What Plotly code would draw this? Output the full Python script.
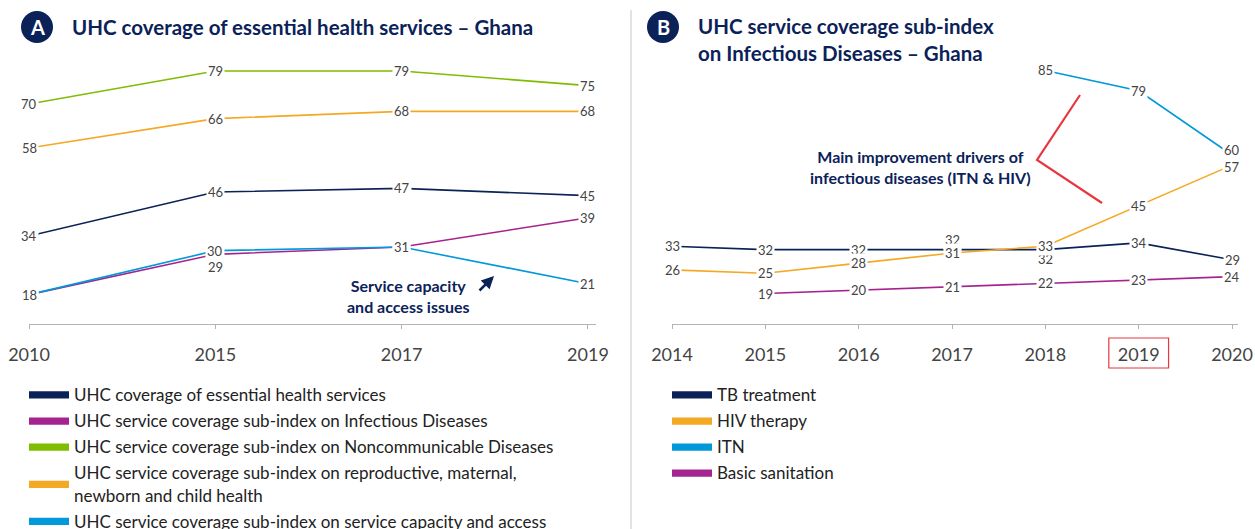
import plotly.graph_objects as go

# ---------------- data ----------------
years_a = ["2010", "2015", "2017", "2019"]
uhc_essential = [34, 46, 47, 45]
uhc_infectious = [18, 29, 31, 39]
uhc_ncd = [70, 79, 79, 75]
uhc_rmnch = [58, 66, 68, 68]
uhc_capacity = [18, 30, 31, 21]

names_a = [
    "UHC coverage of essential health services",
    "UHC service coverage sub-index on Infectious Diseases",
    "UHC service coverage sub-index on Noncommunicable Diseases",
    "UHC service coverage sub-index on reproductive, maternal,<br>newborn and child health",
    "UHC service coverage sub-index on service capacity and access",
]

years_b = ["2014", "2015", "2016", "2017", "2018", "2019", "2020"]
tb_treatment = [33, 32, 32, 32, 32, 34, 29]
hiv_therapy = [26, 25, 28, 31, 33, 45, 57]
itn = [None, None, None, None, 85, 79, 60]
basic_sanitation = [None, 19, 20, 21, 22, 23, 24]

names_b = ["TB treatment", "HIV therapy", "ITN", "Basic sanitation"]

# ---------------- styles ----------------
NAVY = "#0b2259"
MAGENTA = "#a5238e"
GREEN = "#80bc00"
ORANGE = "#f5a823"
BLUE = "#0099da"
RED = "#e8363f"
LABEL = "#444444"
FONT = "Lato"

W, H = 1255, 529


def fx(p):
    return p / W


def fy(p):
    return 1 - p / H


series_a = [
    (names_a[0], uhc_essential, NAVY),
    (names_a[1], uhc_infectious, MAGENTA),
    (names_a[2], uhc_ncd, GREEN),
    (names_a[3], uhc_rmnch, ORANGE),
    (names_a[4], uhc_capacity, BLUE),
]
series_b = [
    (names_b[0], tb_treatment, NAVY),
    (names_b[1], hiv_therapy, ORANGE),
    (names_b[2], itn, BLUE),
    (names_b[3], basic_sanitation, MAGENTA),
]

# vertical label nudges (px) : (panel, series index, point index)
label_shift = {
    ("a", 1, 1): -13,
    ("b", 0, 3): 10,
    ("b", 0, 4): -9,
    ("b", 2, 6): 5,
    ("b", 1, 6): -2,
}

fig = go.Figure()
annotations = []

for panel, years, series, xr, yr, leg in [
    ("a", years_a, series_a, "x", "y", "legend"),
    ("b", years_b, series_b, "x2", "y2", "legend2"),
]:
    for i, (name, vals, col) in enumerate(series):
        fig.add_trace(go.Scatter(
            x=years, y=vals, mode="lines", xaxis=xr, yaxis=yr,
            line=dict(color=col, width=1.6), showlegend=False,
            connectgaps=False, hoverinfo="skip",
        ))
        # legend swatch trace (thick bar swatch)
        fig.add_trace(go.Scatter(
            x=[None], y=[None], mode="lines", xaxis=xr, yaxis=yr,
            line=dict(color=col, width=2.5), fill="toself", fillcolor=col,
            name=name, legend=leg, legendgroup=f"{panel}{i}", showlegend=True,
        ))
    for i, (name, vals, col) in enumerate(series):
        for j, v in enumerate(vals):
            if v is None:
                continue
            annotations.append(dict(
                x=j, y=v, xref=xr, yref=yr, text=str(v),
                showarrow=False, bgcolor="white", borderpad=1,
                xanchor="center", yanchor="middle",
                font=dict(family=FONT, size=13, color=LABEL),
                yshift=label_shift.get((panel, i, j), 0),
            ))

# titles, badges and call-outs
annotations += [
    dict(x=fx(70), y=fy(27), xref="paper", yref="paper", xanchor="left", yanchor="middle",
         text="<b>UHC coverage of essential health services – Ghana</b>", showarrow=False,
         font=dict(family=FONT, size=20.5, color=NAVY)),
    dict(x=fx(696), y=fy(39.5), xref="paper", yref="paper", xanchor="left", yanchor="middle",
         align="left",
         text="<b>UHC service coverage sub-index<br>on Infectious Diseases – Ghana</b>",
         showarrow=False, font=dict(family=FONT, size=20.5, color=NAVY)),
    dict(x=fx(37), y=fy(27), xref="paper", yref="paper", text="<b>A</b>", showarrow=False,
         xanchor="center", yanchor="middle",
         font=dict(family=FONT, size=20, color="white")),
    dict(x=fx(663), y=fy(27), xref="paper", yref="paper", text="<b>B</b>", showarrow=False,
         xanchor="center", yanchor="middle",
         font=dict(family=FONT, size=20, color="white")),
    dict(x=fx(408), y=fy(296), xref="paper", yref="paper", align="center",
         xanchor="center", yanchor="middle",
         text="<b>Service capacity<br>and access issues</b>", showarrow=False,
         font=dict(family=FONT, size=16, color=NAVY)),
    dict(x=fx(494), y=fy(276), xref="paper", yref="paper", text="", showarrow=True,
         ax=-16, ay=16, arrowhead=2, arrowsize=1, arrowwidth=2.5, arrowcolor=NAVY, standoff=0),
    dict(x=fx(920), y=fy(167), xref="paper", yref="paper", align="center",
         xanchor="center", yanchor="middle",
         text="<b>Main improvement drivers of<br>infectious diseases (ITN & HIV)</b>",
         showarrow=False, font=dict(family=FONT, size=16, color=NAVY)),
]

shapes = [
    dict(type="circle", xref="paper", yref="paper", x0=fx(21), x1=fx(53), y0=fy(43), y1=fy(11),
         fillcolor=NAVY, line=dict(width=0), layer="below"),
    dict(type="circle", xref="paper", yref="paper", x0=fx(647), x1=fx(679), y0=fy(43), y1=fy(11),
         fillcolor=NAVY, line=dict(width=0), layer="below"),
    dict(type="line", xref="paper", yref="paper", x0=fx(631), x1=fx(631), y0=0, y1=fy(10),
         line=dict(color="#dadada", width=1.5)),
    dict(type="path", xref="paper", yref="paper",
         path=f"M{fx(1080)},{fy(95)} L{fx(1037)},{fy(160)} L{fx(1102)},{fy(203)}",
         line=dict(color=RED, width=2.2)),
    dict(type="rect", xref="x2", yref="paper", x0=4.68, x1=5.32, y0=fy(368), y1=fy(338),
         line=dict(color=RED, width=1.2)),
]

axis_common = dict(
    type="category", showgrid=False, zeroline=False, showline=True,
    linecolor="#b4b4b4", linewidth=1, ticks="outside", ticklen=4, tickcolor="#b4b4b4",
    tickfont=dict(family=FONT, size=18, color=LABEL), ticklabelstandoff=10,
    fixedrange=True, automargin=False,
)
yaxis_common = dict(visible=False, showgrid=False, zeroline=False, fixedrange=True)

legend_common = dict(
    xanchor="left", yanchor="top", orientation="v", traceorder="grouped",
    tracegroupgap=1, bgcolor="rgba(0,0,0,0)", itemwidth=40,
    font=dict(family=FONT, size=17, color="#222222"),
)

fig.update_layout(
    width=W, height=H, margin=dict(l=0, r=0, t=0, b=0, autoexpand=False),
    paper_bgcolor="white", plot_bgcolor="white",
    font=dict(family=FONT),
    xaxis=dict(domain=[fx(29), fx(596)], range=[0, 3.043], anchor="y", **axis_common),
    yaxis=dict(domain=[fy(324), fy(38)], range=[10, 88], anchor="x", **yaxis_common),
    xaxis2=dict(domain=[fx(672), fx(1238)], range=[0, 6.064], anchor="y2", **axis_common),
    yaxis2=dict(domain=[fy(324), fy(38)], range=[10, 94.6], anchor="x2", **yaxis_common),
    legend=dict(x=fx(24), y=fy(377), **legend_common),
    legend2=dict(x=fx(667), y=fy(377), **legend_common),
    annotations=annotations,
    shapes=shapes,
    showlegend=True,
)

fig.write_html("out.html")
